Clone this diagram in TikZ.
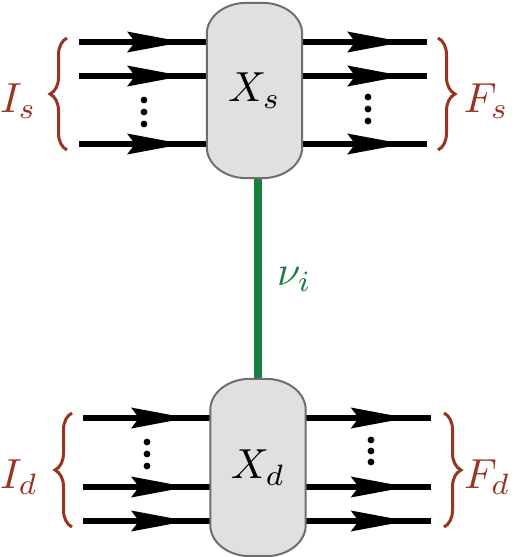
\documentclass[tikz,border=0pt]{standalone}
\usepackage{graphicx}
\usetikzlibrary{calc,decorations.markings,decorations.pathreplacing,backgrounds}
\definecolor{bracered}{RGB}{153,51,34}
\definecolor{nugreen}{RGB}{26,128,64}
\definecolor{boxfill}{RGB}{224,224,224}
\definecolor{boxline}{RGB}{110,110,110}
\pgfdeclarelayer{blobs}
\pgfsetlayers{background,blobs,main}
\newcommand{\mybigmath}[1]{\scalebox{4.2}{$#1$}}
\begin{document}
\begin{tikzpicture}[x=1pt,y=-1pt,
  blob/.style={draw=none,fill=none,minimum width=95pt,inner sep=0pt,font=\fontsize{10}{12}\selectfont},
  blobline/.style={draw=boxline,fill=boxfill,line width=2pt},
  wire/.style={line width=6pt,
    decoration={markings,mark=at position #1 with {\fill (0,0) -- (-56,10.5) -- (-48,0) -- (-56,-10.5) -- cycle;}},
    postaction={decorate}},
  brc/.style={draw=bracered,line width=3pt,decorate,decoration={brace,amplitude=17pt}},
  lbl/.style={inner sep=0pt,font=\fontsize{10}{12}\selectfont},
  nuline/.style={draw=nugreen,line width=8pt},
  dotmark/.style={fill=black},
  corner/.style={x radius=40pt,y radius=31pt}
]
\useasboundingbox (0,0) rectangle (515,557);

% boxes
\node[blob,minimum height=175pt] (Xs) at (254.5,90.5) {\mybigmath{X_s}};
\node[blob,minimum height=177pt] (Xd) at (258,467.5) {\mybigmath{X_d}};

\begin{pgfonlayer}{blobs}
  \foreach \n in {Xs,Xd}{
    \draw[blobline] ($(\n.north west)+(0,31)$) arc[corner,start angle=180,end angle=90]
      -- ($(\n.north east)+(-40,0)$) arc[corner,start angle=90,end angle=0]
      -- ($(\n.south east)+(0,-31)$) arc[corner,start angle=0,end angle=-90]
      -- ($(\n.south west)+(40,0)$) arc[corner,start angle=-90,end angle=-180]
      -- cycle;
  }
\end{pgfonlayer}

% free ends
\coordinate (is1) at (79,42);
\coordinate (is2) at (79,76);
\coordinate (is3) at (79,144);
\coordinate (fs1) at (427,42);
\coordinate (fs2) at (427,76);
\coordinate (fs3) at (427,144);
\coordinate (id1) at (83,418);
\coordinate (id2) at (83,487);
\coordinate (id3) at (83,521);
\coordinate (fd1) at (431,418);
\coordinate (fd2) at (431,487);
\coordinate (fd3) at (431,521);

\begin{pgfonlayer}{background}
  \draw[wire=104pt] (is1) -- (is1 -| Xs.west);
  \draw[wire=104pt] (is2) -- (is2 -| Xs.west);
  \draw[wire=104pt] (is3) -- (is3 -| Xs.west);
  \draw[wire=101pt] (fs1 -| Xs.east) -- (fs1);
  \draw[wire=101pt] (fs2 -| Xs.east) -- (fs2);
  \draw[wire=101pt] (fs3 -| Xs.east) -- (fs3);
  \draw[wire=104pt] (id1) -- (id1 -| Xd.west);
  \draw[wire=104pt] (id2) -- (id2 -| Xd.west);
  \draw[wire=104pt] (id3) -- (id3 -| Xd.west);
  \draw[wire=101pt] (fd1 -| Xd.east) -- (fd1);
  \draw[wire=101pt] (fd2 -| Xd.east) -- (fd2);
  \draw[wire=101pt] (fd3 -| Xd.east) -- (fd3);
  \draw[nuline] (Xs.south -| Xd.north) -- (Xd.north);
\end{pgfonlayer}

% dots
\foreach \yy in {100,112,124} \fill[dotmark] (144,\yy) circle (3.4pt);
\foreach \yy in {97,109,121} \fill[dotmark] (368,\yy) circle (3.4pt);
\foreach \yy in {442,454,466} \fill[dotmark] (147,\yy) circle (3.4pt);
\foreach \yy in {440,451,462} \fill[dotmark] (371,\yy) circle (3.4pt);

% braces
\draw[brc] (67,150) -- (67,38);
\draw[brc] (438,38) -- (438,150);
\draw[brc] (72,527) -- (72,413);
\draw[brc] (444,413) -- (444,527);

% labels
\node[lbl,anchor=base west,text=bracered] (Is) at (0,112) {\mybigmath{I_s}};
\node[lbl,anchor=base east,text=bracered] (Fs) at (509,112) {\mybigmath{F_s}};
\node[lbl,anchor=base west,text=bracered] (Id) at (0,488) {\mybigmath{I_d}};
\node[lbl,anchor=base east,text=bracered] (Fd) at (511,488) {\mybigmath{F_d}};
\node[lbl,anchor=base west,text=nugreen] (nu) at (277,285) {\mybigmath{\nu_i}};
\end{tikzpicture}
\end{document}
